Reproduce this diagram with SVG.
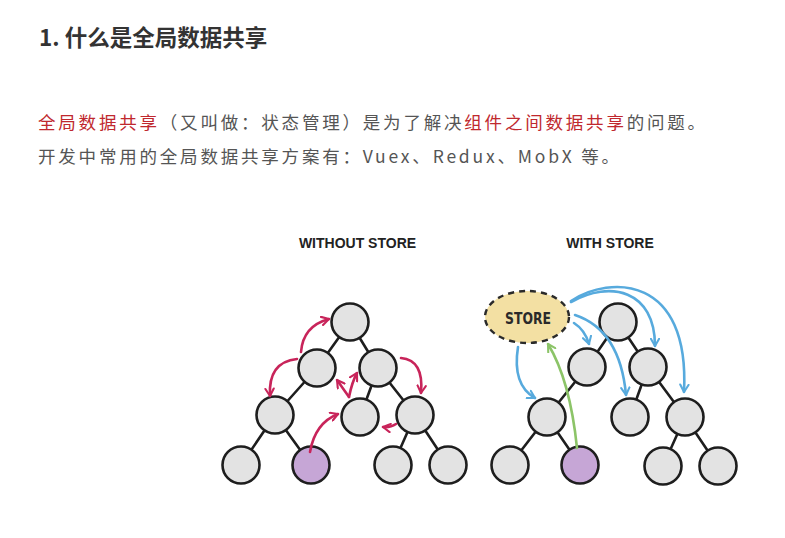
<svg xmlns="http://www.w3.org/2000/svg" width="785" height="538" viewBox="0 0 785 538">
<defs>
<marker id="ar" viewBox="0 0 10 10" refX="8" refY="5" markerWidth="4" markerHeight="4" orient="auto" markerUnits="strokeWidth"><path d="M1,1 L8,5 L1,9" fill="none" stroke="#c8245a" stroke-width="2" stroke-linecap="round" stroke-linejoin="round"/></marker>
<marker id="ab" viewBox="0 0 10 10" refX="8" refY="5" markerWidth="4" markerHeight="4" orient="auto" markerUnits="strokeWidth"><path d="M1,1 L8,5 L1,9" fill="none" stroke="#57aadd" stroke-width="2" stroke-linecap="round" stroke-linejoin="round"/></marker>
<marker id="ag" viewBox="0 0 10 10" refX="8" refY="5" markerWidth="4" markerHeight="4" orient="auto" markerUnits="strokeWidth"><path d="M1,1 L8,5 L1,9" fill="none" stroke="#8cc468" stroke-width="2" stroke-linecap="round" stroke-linejoin="round"/></marker>
</defs>
<style>
.h{font-family:"Noto Sans CJK SC","Noto Sans",sans-serif;font-weight:bold;font-size:22.5px;fill:#333}
.t{font-family:"Noto Sans CJK SC","Noto Sans",sans-serif;font-size:17.5px;fill:#555;letter-spacing:2.8px}
.red{fill:#c0282e}
.cap{font-family:"Liberation Sans",Arial,sans-serif;font-weight:bold;font-size:14px;fill:#222;text-anchor:middle}
.edge{stroke:#1e1e1e;stroke-width:2.6;fill:none}
.n{fill:#e3e3e3;stroke:#1e1e1e;stroke-width:2.6}
.p{fill:#c6a6d6;stroke:#1e1e1e;stroke-width:2.6}
.r{fill:none;stroke:#c8245a;stroke-width:2.6;stroke-linecap:round;marker-end:url(#ar)}
.b{fill:none;stroke:#57aadd;stroke-width:2.6;stroke-linecap:round;marker-end:url(#ab)}
.g{fill:none;stroke:#8cc468;stroke-width:2.6;stroke-linecap:round;marker-end:url(#ag)}
</style>
<rect width="785" height="538" fill="#ffffff"/>
<text class="h" x="39" y="46">1. 什么是全局数据共享</text>
<text class="t" x="38" y="129"><tspan class="red">全局数据共享</tspan>（又叫做：状态管理）是为了解决<tspan class="red">组件之间数据共享</tspan>的问题。</text>
<text class="t" x="38" y="163">开发中常用的全局数据共享方案有：Vuex、Redux、MobX 等。</text>
<text class="cap" x="357.5" y="248">WITHOUT STORE</text>
<text class="cap" x="610" y="248">WITH STORE</text>
<g id="edges-left">
<path class="edge" d="M350,322 L317,368 M350,322 L378,368 M317,368 L275,415 M378,368 L360,417 M378,368 L415,415 M275,415 L241,465 M275,415 L311,465 M415,415 L393,465 M415,415 L448,465"/>
</g>
<g id="edges-right">
<path class="edge" d="M618,322 L587,367 M618,322 L648,367 M587,367 L547,417 M648,367 L630,417 M648,367 L685,417 M547,417 L510,465 M547,417 L580,465 M685,417 L663,466 M685,417 L718,466"/>
</g>
<g id="left-root"><circle class="n" cx="350" cy="322" r="18.5"/></g>
<g id="left-l2a"><circle class="n" cx="317" cy="368" r="18.5"/></g>
<g id="left-l2b"><circle class="n" cx="378" cy="368" r="18.5"/></g>
<g id="left-l3a"><circle class="n" cx="275" cy="415" r="18.5"/></g>
<g id="left-l3b"><circle class="n" cx="360" cy="417" r="18.5"/></g>
<g id="left-l3c"><circle class="n" cx="415" cy="415" r="18.5"/></g>
<g id="left-l4a"><circle class="n" cx="241" cy="465" r="18.5"/></g>
<g id="left-l4b"><circle class="p" cx="311" cy="465" r="18.5"/></g>
<g id="left-l4c"><circle class="n" cx="393" cy="465" r="18.5"/></g>
<g id="left-l4d"><circle class="n" cx="448" cy="465" r="18.5"/></g>
<g id="right-root"><circle class="n" cx="618" cy="322" r="18.5"/></g>
<g id="right-l2a"><circle class="n" cx="587" cy="367" r="18.5"/></g>
<g id="right-l2b"><circle class="n" cx="648" cy="367" r="18.5"/></g>
<g id="right-l3a"><circle class="n" cx="547" cy="417" r="18.5"/></g>
<g id="right-l3b"><circle class="n" cx="630" cy="417" r="18.5"/></g>
<g id="right-l3c"><circle class="n" cx="685" cy="417" r="18.5"/></g>
<g id="right-l4a"><circle class="n" cx="510" cy="465" r="18.5"/></g>
<g id="right-l4b"><circle class="p" cx="580" cy="465" r="18.5"/></g>
<g id="right-l4c"><circle class="n" cx="663" cy="466" r="18.5"/></g>
<g id="right-l4d"><circle class="n" cx="718" cy="466" r="18.5"/></g>
<g id="store">
<ellipse cx="527" cy="317" rx="42" ry="26" fill="#f3e0a3" stroke="#2a2a2a" stroke-width="2.4" stroke-dasharray="6,5"/>
<text x="528" y="324" font-family="DejaVu Sans,sans-serif" font-weight="bold" font-size="15" fill="#2a2a2a" text-anchor="middle" textLength="46" lengthAdjust="spacingAndGlyphs">STORE</text>
</g>
<g id="connectors">
<path class="r" d="M301,352 Q303,326 329,319"/>
<path class="r" d="M297,359 Q268,362 270,396"/>
<path class="r" d="M401,358 Q424,360 421,393"/>
<path class="r" d="M349,397 L337,380"/>
<path class="r" d="M349,397 Q352,382 357,373"/>
<path class="r" d="M310,452 Q315,423 338,414"/>
<path class="r" d="M396,424 Q390,428 383,427"/>
<path class="b" d="M518,347 Q512,385 535,398"/>
<path class="b" d="M574,323 Q585,330 589,344"/>
<path class="b" d="M575,315 Q620,330 626,395"/>
<path class="b" d="M571,302 C610,280 655,290 655,346"/>
<path class="b" d="M571,301 C610,275 690,275 684,392"/>
<path class="g" d="M577,448 Q570,380 548,344"/>
</g>
</svg>
